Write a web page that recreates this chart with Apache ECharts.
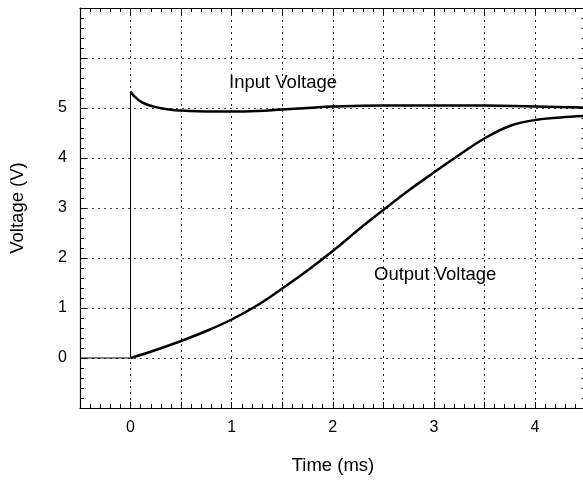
<!DOCTYPE html>
<html>
<head>
<meta charset="utf-8">
<script src="https://cdn.jsdelivr.net/npm/echarts@6/dist/echarts.min.js"></script>
<style>html,body{margin:0;padding:0;background:#fff}#c{width:583px;height:481px}</style>
</head>
<body>
<div id="c"></div>
<script>
// Data
const stepTime = [-0.5, 0, 0];
const stepVolt = [0, 0, 5.33];
const inputTime = [0, 0.025, 0.05, 0.075, 0.1, 0.15, 0.2, 0.3, 0.4, 0.5, 0.75, 1, 1.25, 1.5, 1.75, 2, 2.5, 3, 3.5, 4, 4.5];
const inputVolt = [5.33, 5.26, 5.21, 5.165, 5.13, 5.08, 5.045, 4.995, 4.965, 4.95, 4.93, 4.93, 4.94, 4.97, 5.00, 5.03, 5.05, 5.05, 5.05, 5.03, 5.01];
const outputTime = [0, 0.25, 0.5, 0.75, 1, 1.25, 1.5, 1.75, 2, 2.25, 2.5, 2.75, 3, 3.25, 3.5, 3.75, 4, 4.25, 4.5];
const outputVolt = [0, 0.16, 0.34, 0.54, 0.77, 1.05, 1.39, 1.75, 2.14, 2.56, 2.96, 3.35, 3.71, 4.06, 4.39, 4.64, 4.76, 4.81, 4.84];
const xTickLabels = ['0', '1', '2', '3', '4'];
const yTickLabels = ['0', '1', '2', '3', '4', '5'];
const labels = { input: 'Input Voltage', output: 'Output Voltage', xName: 'Time (ms)', yName: 'Voltage (V)' };

const zip = (a, b) => a.map((v, i) => [v, b[i]]);
const isLabel = (v, list) => list.indexOf(String(Math.round(v * 1000) / 1000)) >= 0;
const FONT = 'Liberation Sans, Arial, sans-serif';
const axisCommon = {
  type: 'value',
  axisLine: { show: true, onZero: false, lineStyle: { color: '#000', width: 1.2 } },
  axisTick: { show: true, inside: true, length: 6, lineStyle: { color: '#000' } },
  minorTick: { show: true, splitNumber: 5, length: 4, lineStyle: { color: '#000' } },
};
const chart = echarts.init(document.getElementById('c'), null, { renderer: 'canvas' });
chart.setOption({
  animation: false,
  backgroundColor: '#fff',
  grid: { left: 80, top: 8, width: 505.5, bottom: 73, containLabel: false, outerBoundsMode: 'none' },
  xAxis: [
    Object.assign({}, axisCommon, {
      min: -0.5, max: 4.5, interval: 0.5, position: 'bottom',
      axisLabel: { show: true, margin: 12, fontSize: 16, color: '#000', fontFamily: FONT,
        formatter: v => isLabel(v, xTickLabels) ? String(Math.round(v)) : '' },
      splitLine: { show: true, lineStyle: { color: '#222', type: [2, 4], width: 1 } }
    }),
    Object.assign({}, axisCommon, {
      min: -0.5, max: 4.5, interval: 0.5, position: 'top',
      axisLabel: { show: false }, splitLine: { show: false }
    })
  ],
  yAxis: [
    Object.assign({}, axisCommon, {
      min: -1, max: 7, interval: 1, position: 'left',
      axisLabel: { show: true, margin: 13, fontSize: 16, color: '#000', fontFamily: FONT,
        formatter: v => isLabel(v, yTickLabels) ? String(Math.round(v)) : '' },
      splitLine: { show: true, lineStyle: { color: '#444', type: [2, 4], width: 1 } }
    }),
    Object.assign({}, axisCommon, {
      min: -1, max: 7, interval: 1, position: 'right',
      axisLabel: { show: false }, splitLine: { show: false }
    })
  ],
  series: [
    { type: 'line', data: zip(stepTime, stepVolt), showSymbol: false, symbol: 'none',
      lineStyle: { color: '#000', width: 1 }, z: 3 },
    { type: 'line', data: zip(inputTime, inputVolt), showSymbol: false, symbol: 'none', smooth: 0.5,
      lineStyle: { color: '#000', width: 2.5 }, z: 4 },
    { type: 'line', data: zip(outputTime, outputVolt), showSymbol: false, symbol: 'none', smooth: 0.4,
      lineStyle: { color: '#000', width: 2.5 }, z: 4 }
  ],
  graphic: [
    { type: 'text', left: 229, top: 73, style: { text: labels.input, fontSize: 18.5, fill: '#000', fontFamily: FONT } },
    { type: 'text', left: 374, top: 265, style: { text: labels.output, fontSize: 18.5, fill: '#000', fontFamily: FONT } },
    { type: 'text', x: 333, y: 466, style: { text: labels.xName, fontSize: 18.5, fill: '#000', fontFamily: FONT, align: 'center', verticalAlign: 'middle' } },
    { type: 'text', x: 18, y: 208, rotation: Math.PI / 2, style: { text: labels.yName, fontSize: 18.5, fill: '#000', fontFamily: FONT, align: 'center', verticalAlign: 'middle' } }
  ]
});
</script>
</body>
</html>
